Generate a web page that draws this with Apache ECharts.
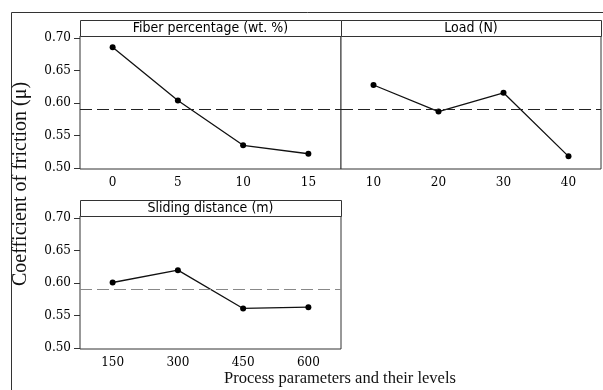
<!DOCTYPE html>
<html>
<head>
<meta charset="utf-8">
<script src="https://cdn.jsdelivr.net/npm/echarts@6/dist/echarts.min.js"></script>
<style>
  html, body { margin: 0; padding: 0; background: #fff; }
  #chart { width: 603px; height: 390px; }
</style>
</head>
<body>
<div id="chart"></div>
<script>
// main effects plot data
const fiberLevels = ["0", "5", "10", "15"];
const fiberCof = [0.686, 0.604, 0.535, 0.522];
const loadLevels = ["10", "20", "30", "40"];
const loadCof = [0.628, 0.587, 0.616, 0.518];
const distanceLevels = ["150", "300", "450", "600"];
const distanceCof = [0.601, 0.620, 0.561, 0.563];
const yTicks = [0.5, 0.55, 0.6, 0.65, 0.7];
const meanCof = 0.586;
const panelTitles = ["Fiber percentage (wt. %)", "Load (N)", "Sliding distance (m)"];

const chart = echarts.init(document.getElementById("chart"));

const serif = "DejaVu Serif";
const stripFont = "'DejaVu Sans Condensed', 'DejaVu Sans', sans-serif";
const dark = "#333";

// panel boxes: plot area (below the title strip)
const panels = [
  { left: 80, top: 36, width: 261, height: 133, labels: true, dash: "#222" },
  { left: 341, top: 36, width: 260, height: 133, labels: false, dash: "#222" },
  { left: 80, top: 216, width: 261, height: 133, labels: true, dash: "#888" },
];
const levels = [fiberLevels, loadLevels, distanceLevels];
const values = [fiberCof, loadCof, distanceCof];

const option = {
  animation: false,
  backgroundColor: "#fff",
  grid: panels.map((p) => ({
    left: p.left,
    top: p.top,
    width: p.width,
    height: p.height,
    show: true,
    borderColor: dark,
    borderWidth: 1,
    backgroundColor: "#fff",
    containLabel: false,
  })),
  xAxis: panels.map((p, i) => ({
    type: "category",
    gridIndex: i,
    data: levels[i],
    boundaryGap: true,
    axisLine: { show: false },
    axisTick: { alignWithLabel: true, length: 5, lineStyle: { color: dark } },
    axisLabel: { fontFamily: serif, fontSize: 12, color: "#000", margin: 8 },
    splitLine: { show: false },
  })),
  yAxis: panels.map((p, i) => ({
    type: "value",
    gridIndex: i,
    min: 0.4985,
    max: 0.7035,
    axisLine: { show: false },
    axisTick: {
      show: p.labels,
      length: 6,
      customValues: yTicks,
      lineStyle: { color: dark },
    },
    axisLabel: {
      show: p.labels,
      customValues: yTicks,
      formatter: (v) => v.toFixed(2),
      fontFamily: serif,
      fontSize: 12,
      color: "#000",
      margin: 9,
    },
    splitLine: { show: false },
  })),
  series: panels.map((p, i) => ({
    type: "line",
    xAxisIndex: i,
    yAxisIndex: i,
    data: values[i],
    symbol: "circle",
    symbolSize: 6,
    itemStyle: { color: "#000" },
    lineStyle: { color: "#111", width: 1.3 },
    markLine: {
      silent: true,
      symbol: "none",
      label: { show: false },
      lineStyle: { color: p.dash, type: [12, 5], width: 1 },
      data: [{ yAxis: meanCof }],
    },
  })),
  graphic: [
    // outer frame (left + top edges)
    {
      type: "polyline",
      shape: { points: [[11.5, 390], [11.5, 12.5], [603, 12.5]] },
      style: { stroke: dark, lineWidth: 1, fill: null },
    },
    // title strips
    ...panels.map((p, i) => ({
      type: "rect",
      shape: { x: p.left + 0.5, y: p.top - 16 + 0.5, width: p.width, height: 16 },
      style: { fill: "#fff", stroke: dark, lineWidth: 1 },
      z: 10,
    })),
    ...panels.map((p, i) => ({
      type: "text",
      x: p.left + p.width / 2,
      y: p.top - 8,
      style: {
        text: panelTitles[i],
        font: "14px " + stripFont,
        fill: "#000",
        align: "center",
        verticalAlign: "middle",
      },
      z: 11,
    })),
    {
      type: "text",
      x: 21,
      y: 184,
      rotation: Math.PI / 2,
      style: {
        text: "Coefficient of friction (\u03bc)",
        font: "20px 'Liberation Serif', serif",
        fill: "#111",
        align: "center",
        verticalAlign: "middle",
      },
    },
    {
      type: "text",
      x: 340,
      y: 379,
      style: {
        text: "Process parameters and their levels",
        font: "16.5px 'Liberation Serif', serif",
        fill: "#111",
        align: "center",
        verticalAlign: "middle",
      },
    },
  ],
};

chart.setOption(option);
</script>
</body>
</html>
